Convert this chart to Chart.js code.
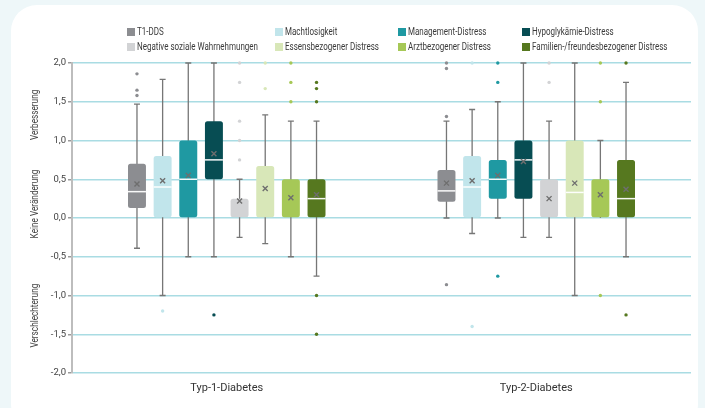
<!DOCTYPE html>
<html>
<head>
<title>Veränderung der Distress-Werte</title>
<script src="https://cdn.jsdelivr.net/npm/chart.js"></script>
<style>
  body { margin: 0; background: #eef7f9; width: 705px; height: 408px; overflow: hidden; position: relative; }
  #card { position: absolute; left: 11px; top: 5px; width: 687px; height: 425px; background: #fff; border-radius: 26px; }
  #wrap { position: absolute; left: 0; top: 0; width: 705px; height: 408px; }
  #legend { position: absolute; left: 0; top: 0; font-family: Roboto, sans-serif; font-size: 10px; color: #3a3a3a; }
  .item { position: absolute; white-space: nowrap; height: 12px; line-height: 12px; }
  .item .sq { display: inline-block; width: 8px; height: 8px; margin-right: 2px; vertical-align: -1px; }
  .item .tx { display: inline-block; transform: scaleX(0.8); transform-origin: left center; }
</style>
</head>
<body>
<div id="card"></div>
<div id="wrap"><canvas id="chart" width="705" height="408"></canvas></div>
<div id="legend"></div>

<script>
// categories and series
const groups = ['Typ-1-Diabetes', 'Typ-2-Diabetes'];
const series = ['T1-DDS', 'Machtlosigkeit', 'Management-Distress', 'Hypoglykämie-Distress',
  'Negative soziale Wahrnehmungen', 'Essensbezogener Distress', 'Arztbezogener Distress',
  'Familien-/freundesbezogener Distress'];
const colors = ['#8c8d91', '#c1e5eb', '#1f99a2', '#074d53', '#d2d3d5', '#d8e7b8', '#a6c857', '#56781f'];

// per series: [Typ-1, Typ-2]
const whiskerLow = [[-0.39, 0], [-1, -0.2], [-0.5, 0], [-0.5, -0.25], [-0.25, -0.25], [-0.33, -1], [-0.5, 0], [-0.75, -0.5]];
const q1 = [[0.13, 0.21], [0, 0], [0, 0.25], [0.5, 0.25], [0, 0], [0, 0], [0, 0], [0, 0]];
const median = [[0.34, 0.35], [0.4, 0.4], [0.5, 0.5], [0.75, 0.75], [0, 0], [0, 0.33], [0, 0], [0.25, 0.25]];
const q3 = [[0.7, 0.62], [0.8, 0.8], [1, 0.75], [1.25, 1], [0.25, 0.5], [0.67, 1], [0.5, 0.5], [0.5, 0.75]];
const whiskerHigh = [[1.47, 1.25], [1.79, 1.4], [2, 1.5], [2, 2], [0.5, 1.25], [1.33, 2], [1.25, 1], [1.25, 1.75]];
const mean = [[0.44, 0.45], [0.48, 0.48], [0.55, 0.55], [0.83, 0.73], [0.22, 0.25], [0.38, 0.45], [0.26, 0.3], [0.3, 0.37]];
const outliers = [
  [[1.86, 1.65, 1.58], [2, 1.93, 1.31, -0.86]],
  [[-1.2], [2, -1.4]],
  [[], [2, 1.75, -0.75]],
  [[-1.25], []],
  [[2, 1.75, 1.25, 1, 0.75], [2, 1.75]],
  [[2, 1.67], []],
  [[2, 1.75, 1.5], [2, 1.5, -1]],
  [[1.75, 1.67, 1.5, -1, -1.5], [2, -1.25]]
];

const yTitles = ['Verbesserung', 'Keine Veränderung', 'Verschlechterung'];

// legend (4 columns, 2 rows)
const legend = document.getElementById('legend');
const colX = [127, 275, 398, 522];
const rowY = [26, 40.5];
series.forEach((name, i) => {
  const d = document.createElement('div');
  d.className = 'item';
  d.style.left = colX[i % 4] + 'px';
  d.style.top = rowY[Math.floor(i / 4)] + 'px';
  d.innerHTML = '<span class="sq" style="background:' + colors[i] + '"></span><span class="tx">' + name + '</span>';
  legend.appendChild(d);
});

const boxExtras = {
  id: 'boxExtras',
  beforeDatasetsDraw(chart) {
    const ctx = chart.ctx, y = chart.scales.y;
    ctx.save();
    ctx.strokeStyle = '#767676';
    ctx.lineWidth = 1.3;
    series.forEach((s, i) => {
      chart.getDatasetMeta(i).data.forEach((bar, j) => {
        const lo = y.getPixelForValue(whiskerLow[i][j]);
        const hi = y.getPixelForValue(whiskerHigh[i][j]);
        ctx.beginPath();
        ctx.moveTo(bar.x, hi);
        ctx.lineTo(bar.x, lo);
        if (whiskerHigh[i][j] > q3[i][j]) { ctx.moveTo(bar.x - 3, hi); ctx.lineTo(bar.x + 3, hi); }
        if (whiskerLow[i][j] < q1[i][j]) { ctx.moveTo(bar.x - 3, lo); ctx.lineTo(bar.x + 3, lo); }
        ctx.stroke();
      });
    });
    ctx.restore();
  },
  afterDatasetsDraw(chart) {
    const ctx = chart.ctx, y = chart.scales.y;
    ctx.save();
    series.forEach((s, i) => {
      chart.getDatasetMeta(i).data.forEach((bar, j) => {
        const half = bar.width / 2;
        // median
        if (median[i][j] > q1[i][j] && median[i][j] < q3[i][j]) {
          const my = y.getPixelForValue(median[i][j]);
          ctx.strokeStyle = 'rgba(255,255,255,0.95)';
          ctx.lineWidth = 1.5;
          ctx.beginPath();
          ctx.moveTo(bar.x - half, my);
          ctx.lineTo(bar.x + half, my);
          ctx.stroke();
        }
        // mean
        const ay = y.getPixelForValue(mean[i][j]);
        ctx.strokeStyle = '#6e6e6e';
        ctx.lineWidth = 1.4;
        ctx.beginPath();
        ctx.moveTo(bar.x - 2.5, ay - 2.5); ctx.lineTo(bar.x + 2.5, ay + 2.5);
        ctx.moveTo(bar.x + 2.5, ay - 2.5); ctx.lineTo(bar.x - 2.5, ay + 2.5);
        ctx.stroke();
        // outliers
        ctx.fillStyle = colors[i];
        outliers[i][j].forEach(v => {
          ctx.beginPath();
          ctx.arc(bar.x, y.getPixelForValue(v), 1.7, 0, Math.PI * 2);
          ctx.fill();
        });
      });
    });
    ctx.restore();
  },
  afterDraw(chart) {
    const ctx = chart.ctx, y = chart.scales.y;
    const at = [1.33, 0.18, -1.26];
    ctx.save();
    ctx.font = '10px Roboto, sans-serif';
    ctx.fillStyle = '#444';
    ctx.textAlign = 'center';
    ctx.textBaseline = 'middle';
    yTitles.forEach((t, k) => {
      ctx.save();
      ctx.translate(35, y.getPixelForValue(at[k]));
      ctx.rotate(-Math.PI / 2);
      ctx.scale(0.82, 1);
      ctx.fillText(t, 0, 0);
      ctx.restore();
    });
    ctx.restore();
  }
};

new Chart(document.getElementById('chart'), {
  type: 'bar',
  data: {
    labels: groups,
    datasets: series.map((name, i) => ({
      label: name,
      data: groups.map((g, j) => [q1[i][j], q3[i][j]]),
      backgroundColor: colors[i],
      borderRadius: 2.5,
      borderSkipped: false,
      categoryPercentage: 0.663,
      barPercentage: 0.7
    }))
  },
  options: {
    responsive: false,
    animation: false,
    layout: { padding: { top: 63, right: 14, bottom: 10, left: 0 } },
    plugins: { legend: { display: false }, tooltip: { enabled: false } },
    scales: {
      x: {
        grid: { display: false },
        border: { display: false },
        ticks: { font: { family: 'Roboto', size: 11 }, color: '#333', padding: 1 },
        afterFit(s) { s.height = 25; }
      },
      y: {
        min: -2, max: 2,
        ticks: {
          stepSize: 0.5,
          callback: v => v.toFixed(1).replace('.', ','),
          font: { family: 'Roboto', size: 9.5 },
          color: '#444',
          padding: 2
        },
        grid: { color: '#a9dce3', lineWidth: 1.5, tickLength: 4, tickColor: '#9a9a9a' },
        border: { color: '#bdbdbd', width: 2 },
        afterFit(s) { s.width = 72; }
      }
    }
  },
  plugins: [boxExtras]
});
</script>
</body>
</html>
